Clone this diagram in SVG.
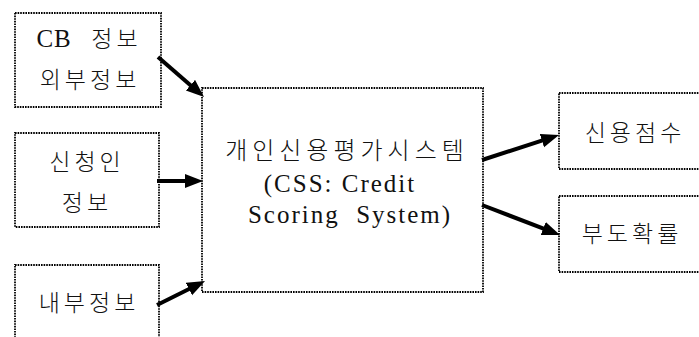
<svg xmlns="http://www.w3.org/2000/svg" width="699" height="337" viewBox="0 0 699 337">
<style>
.box{fill:#fff;stroke:#000;stroke-width:1.8;stroke-dasharray:1.6 1}
.t{font-family:"Liberation Serif","Noto Sans CJK KR",serif;font-size:23px;font-weight:300;fill:#111;text-anchor:middle;letter-spacing:4px}
.c{font-size:24px;letter-spacing:5px}
.l{font-size:25px;letter-spacing:2px}
.arr{stroke:#000;stroke-width:4;fill:none;marker-end:url(#ah)}
</style>
<defs>
<marker id="ah" markerUnits="userSpaceOnUse" markerWidth="20" markerHeight="16" refX="8" refY="7" orient="auto">
<path d="M0,0 L18,7 L0,14 z" fill="#000"/>
</marker>
</defs>
<rect width="699" height="337" fill="#fff"/>
<g id="cb">
<rect class="box" x="15" y="13" width="146" height="94"/>
<text class="t" x="89" y="47"><tspan font-size="25" letter-spacing="1">CB</tspan>&#160; 정보</text>
<text class="t" x="90" y="88">외부정보</text>
</g>
<g id="applicant">
<rect class="box" x="15" y="133" width="144" height="94"/>
<text class="t" x="87" y="170">신청인</text>
<text class="t" x="87" y="211">정보</text>
</g>
<g id="internal">
<rect class="box" x="15" y="265" width="144" height="90"/>
<text class="t" x="89" y="311">내부정보</text>
</g>
<g id="css">
<rect class="box" x="202" y="88" width="281" height="204"/>
<text class="t c" x="347" y="159">개인신용평가시스템</text>
<text class="t l" x="340" y="192">(CSS: Credit</text>
<text class="t l" x="350" y="223">Scoring&#160; System)</text>
</g>
<g id="score">
<rect class="box" x="559" y="93" width="150" height="76"/>
<text class="t" x="635" y="141">신용점수</text>
</g>
<g id="pd">
<rect class="box" x="559" y="196" width="150" height="76"/>
<text class="t" x="632" y="242">부도확률</text>
</g>
<g id="connectors">
<line class="arr" x1="158" y1="57" x2="196.5" y2="90.4"/>
<line class="arr" x1="157" y1="181" x2="193" y2="181"/>
<line class="arr" x1="157" y1="305" x2="196.1" y2="285.5"/>
<line class="arr" x1="482" y1="160" x2="549.5" y2="138.1"/>
<line class="arr" x1="482" y1="205" x2="550.7" y2="231.4"/>
</g>
</svg>
